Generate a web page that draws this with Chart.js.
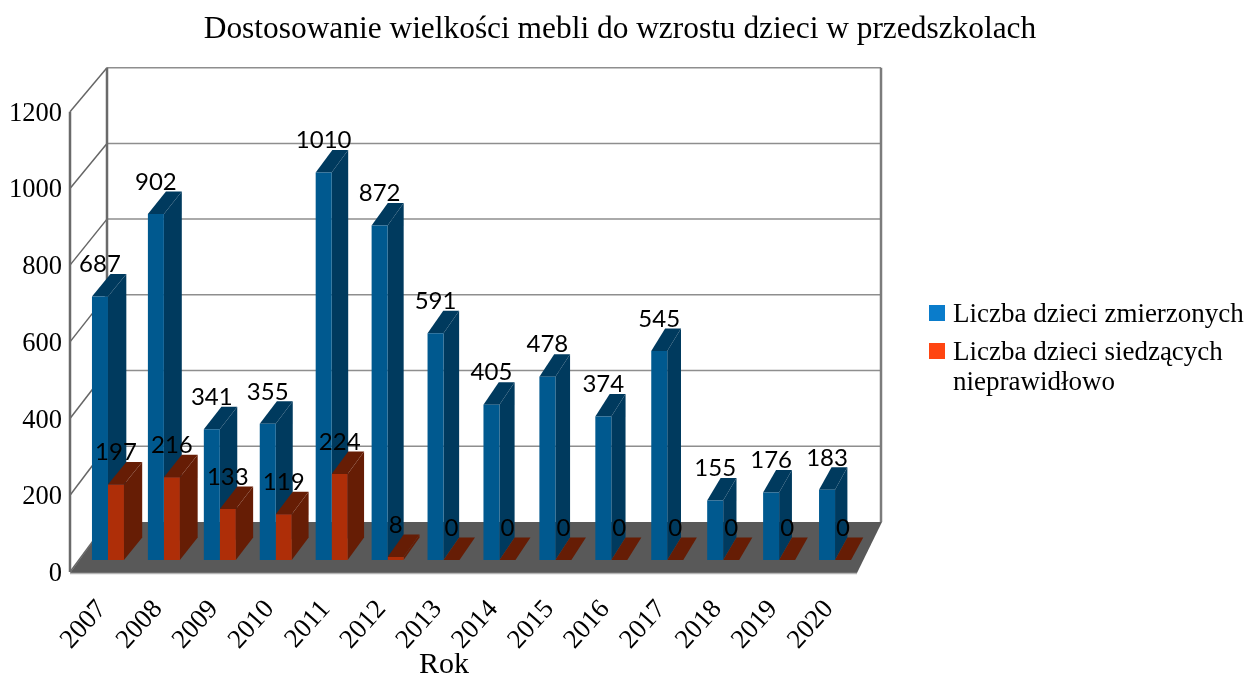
<!DOCTYPE html>
<html><head><meta charset="utf-8">
<style>html,body{margin:0;padding:0;background:#fff}canvas{display:block}</style>
<script src="https://cdn.jsdelivr.net/npm/chart.js@4"></script>
</head><body><canvas id="c" width="1247" height="675"></canvas>
<script>
const categories = ['2007','2008','2009','2010','2011','2012','2013','2014','2015','2016','2017','2018','2019','2020'];
const measured = [687,902,341,355,1010,872,591,405,478,374,545,155,176,183];
const incorrect = [197,216,133,119,224,8,0,0,0,0,0,0,0,0];
const seriesNames = [['Liczba dzieci zmierzonych'],['Liczba dzieci siedzących','nieprawidłowo']];
const legendColors = ['#0A7CCB','#FF4511'];
const titleText = 'Dostosowanie wielkości mebli do wzrostu dzieci w przedszkolach';
const axisTitle = 'Rok';

const SERIF = '"Liberation Serif"';
const SHIFT_X = 10, SHIFT_Y = -12;
const faces = [{side:'#003A5E',top:'#003A5E'},{side:'#661D05',top:'#661D05'}];

function swatch(color){
  const s=document.createElement('canvas'); s.width=16; s.height=20;
  const g=s.getContext('2d'); g.fillStyle=color; g.fillRect(0,0,16,16); return s;
}
function depthX(x){ return 18.5-(x-92)/727*6; }
const DEPTH_Y = 22.5;

const scene = {
  id:'scene',
  beforeLayout(chart){
    const l=chart.legend;
    if(!l._fitWrapped){
      const fit=l.fit;
      l.fit=function(){ fit.call(this); this.width=394; };
      l._fitWrapped=true;
    }
  },
  afterLayout(chart){
    const l=chart.legend;
    l.left=926.5; l.right=1247; l.top=293.5;
    chart.titleBlock.right=1240;
  },
  beforeDatasetsDraw(chart){
    const ctx=chart.ctx, y=chart.scales.y, a=chart.chartArea;
    const backL=107, backR=881, backBottom=522, frontL=a.left, frontBottom=a.bottom;
    const backY=v=>backBottom-(frontBottom-y.getPixelForValue(v))*(454/460);
    ctx.save();
    // floor
    ctx.fillStyle='#595959';
    ctx.beginPath();
    ctx.moveTo(frontL,frontBottom+1);ctx.lineTo(857,frontBottom+1);ctx.lineTo(backR+1,backBottom);ctx.lineTo(backL,backBottom);
    ctx.closePath();ctx.fill();
    ctx.strokeStyle='#b4b4b4';ctx.lineWidth=1.5;
    ctx.beginPath();ctx.moveTo(frontL,frontBottom+1.5);ctx.lineTo(857,frontBottom+1.5);ctx.stroke();
    // grid on the back wall and the side wall
    y.ticks.forEach(t=>{
      const by=backY(t.value);
      if(t.value>0){
        ctx.strokeStyle='#8e8e8e';ctx.lineWidth=1.5;
        ctx.beginPath();ctx.moveTo(backL,by);ctx.lineTo(backR,by);ctx.stroke();
      }
      ctx.strokeStyle='#666666';ctx.lineWidth=1.5;
      ctx.beginPath();ctx.moveTo(frontL,y.getPixelForValue(t.value));ctx.lineTo(backL,by);ctx.stroke();
    });
    // wall edges
    ctx.strokeStyle='#6a6a6a';ctx.lineWidth=2.5;
    ctx.beginPath();ctx.moveTo(frontL,a.top);ctx.lineTo(frontL,frontBottom);ctx.stroke();
    ctx.beginPath();ctx.moveTo(backL,backY(1200));ctx.lineTo(backL,backBottom);ctx.stroke();
    ctx.strokeStyle='#7c7c7c';ctx.lineWidth=2.5;
    ctx.beginPath();ctx.moveTo(backR,backY(1200));ctx.lineTo(backR,backBottom);ctx.stroke();
    // depth faces of the bars
    ctx.translate(SHIFT_X,SHIFT_Y);
    [0,1].forEach(di=>{
      chart.getDatasetMeta(di).data.forEach(b=>{
        const l=b.x-b.width/2, r=b.x+b.width/2, dl=depthX(l+SHIFT_X), dr=depthX(r+SHIFT_X);
        ctx.fillStyle=faces[di].side;
        ctx.beginPath();ctx.moveTo(r,b.y);ctx.lineTo(r,b.base);ctx.lineTo(r+dr,b.base-DEPTH_Y);ctx.lineTo(r+dr,b.y-DEPTH_Y);ctx.closePath();ctx.fill();
        ctx.fillStyle=faces[di].top;
        ctx.beginPath();ctx.moveTo(l,b.y);ctx.lineTo(r,b.y);ctx.lineTo(r+dr,b.y-DEPTH_Y);ctx.lineTo(l+dl,b.y-DEPTH_Y);ctx.closePath();ctx.fill();
      });
    });
    ctx.restore();
  },
  beforeDatasetDraw(chart){ chart.ctx.save(); chart.ctx.translate(SHIFT_X,SHIFT_Y); },
  afterDatasetDraw(chart){ chart.ctx.restore(); },
  afterDatasetsDraw(chart){
    const ctx=chart.ctx;
    ctx.save();
    ctx.font='24px Lato';ctx.fillStyle='#000';ctx.textAlign='center';ctx.textBaseline='middle';
    [1,0].forEach(di=>{
      chart.getDatasetMeta(di).data.forEach((b,i)=>{
        ctx.fillText(String(chart.data.datasets[di].data[i]),b.x+SHIFT_X,b.y+SHIFT_Y-32);
      });
    });
    ctx.font='30px '+SERIF;
    ctx.fillText(axisTitle,444,665);
    ctx.restore();
  }
};

new Chart(document.getElementById('c'),{
  type:'bar',
  data:{labels:categories,datasets:[
    {label:seriesNames[0].join(' '),data:measured,backgroundColor:'#00598F',legendColor:legendColors[0],textLines:seriesNames[0]},
    {label:seriesNames[1].join(' '),data:incorrect,backgroundColor:'#AE2E08',legendColor:legendColors[1],textLines:seriesNames[1]}
  ]},
  options:{
    responsive:false,animation:false,
    layout:{padding:0,autoPadding:false},
    datasets:{bar:{categoryPercentage:0.572,barPercentage:1}},
    scales:{
      x:{
        grid:{display:false},border:{display:false},
        ticks:{autoSkip:false,minRotation:48,maxRotation:48,color:'#000',padding:14,labelOffset:4,font:{family:SERIF,size:27}},
        afterFit(s){s.height=103;}
      },
      y:{
        min:0,max:1200,
        grid:{display:false},border:{display:false},
        ticks:{stepSize:200,color:'#000',padding:0,labelOffset:2,font:{family:SERIF,size:26.5},callback:v=>String(v)},
        afterFit(s){s.width=70;}
      }
    },
    plugins:{
      tooltip:{enabled:false},
      title:{display:true,text:titleText,color:'#000',padding:{top:11,bottom:63},font:{family:SERIF,size:31.4,weight:'normal'}},
      legend:{
        position:'right',align:'start',
        labels:{
          color:'#000',padding:8,font:{family:SERIF,size:27,lineHeight:30/27},
          usePointStyle:true,pointStyleWidth:5,boxHeight:16,
          generateLabels(chart){
            return chart.data.datasets.map((d,i)=>({
              text:d.textLines,datasetIndex:i,fillStyle:d.legendColor,strokeStyle:d.legendColor,lineWidth:0,
              pointStyle:swatch(d.legendColor),fontColor:'#000',hidden:false
            }));
          }
        }
      }
    }
  },
  plugins:[scene]
});
</script></body></html>
